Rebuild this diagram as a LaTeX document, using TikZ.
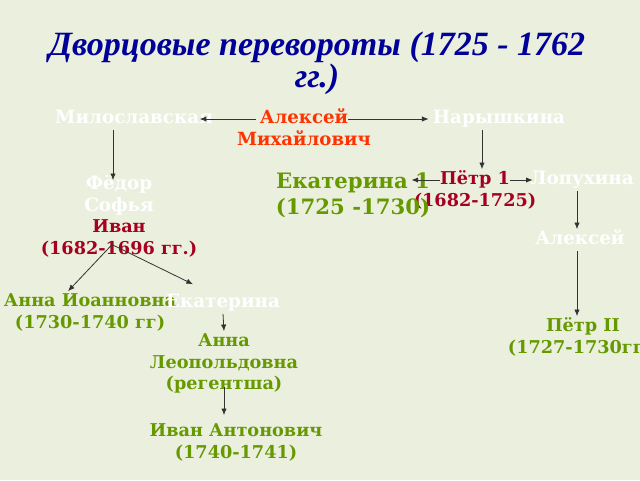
\documentclass[tikz,border=0pt]{standalone}
\usepackage{fontspec}
\setmainfont{DejaVu Serif}
\newfontfamily\titlefont{Liberation Serif}
\usepackage{xcolor}
\usetikzlibrary{arrows.meta,positioning,calc}

\definecolor{bgcol}{RGB}{235,239,222}
\definecolor{titleblue}{RGB}{0,0,153}
\definecolor{leafgreen}{RGB}{102,153,0}
\definecolor{darkcrimson}{RGB}{165,0,33}
\definecolor{redorange}{RGB}{255,51,0}

\begin{document}
\begin{tikzpicture}[
    x=0.75pt, y=-0.75pt,
    >={Latex[length=5pt,width=4pt]},
    line/.style={draw=black!80, line width=0.6pt},
    person/.style={font=\bfseries\fontsize{13.25}{15.75}\selectfont, inner sep=0pt, text height=11.5pt, text depth=4.25pt},
    whitename/.style={person, text=white, font=\bfseries\fontsize{13.75}{15.75}\selectfont},
    greenname/.style={person, text=leafgreen},
    rulername/.style={person, text=darkcrimson},
    fathername/.style={person, text=redorange, font=\bfseries\fontsize{13.6}{15.75}\selectfont},
    bigname/.style={person, text=leafgreen, font=\bfseries\fontsize{15.9}{18.75}\selectfont, text height=13.5pt, text depth=5.25pt},
    titletext/.style={font=\titlefont\bfseries\itshape\fontsize{25.5}{22.5}\selectfont, text=titleblue, align=center},
    ]
    \path[use as bounding box, fill=bgcol] (0,0) rectangle (640,480);

    %Title
    \node[titletext] (title) at (317,63) {Дворцовые перевороты (1725 - 1762\\гг.)};

    %Nodes
    \node[whitename]                   (miloslav)   at (134,119) {Милославская};
    \node[fathername]                  (alexey)     at (304,119) {Алексей};
    \node[fathername, below=0pt of alexey] (mikhail)             {Михайлович};
    \node[whitename]                   (naryshkina) at (499,119) {Нарышкина};

    \node[whitename]                   (fedor)      at (119,185) {Фёдор};
    \node[whitename, below=0pt of fedor]   (sofia)               {Софья};
    \node[rulername, below=0pt of sofia]   (ivan)                {Иван};
    \node[rulername, below=0pt of ivan]    (ivanyears)           {(1682-1696 гг.)};

    \node[rulername]                   (petr)       at (475,180) {Пётр 1};
    \node[rulername, below=0pt of petr]    (petryears)           {(1682-1725)};
    \node[bigname]                     (ekat1)      at (353,183) {Екатерина 1};
    \node[bigname, below=0pt of ekat1]     (ekat1years)          {(1725 -1730)};
    \node[whitename]                   (lopukhina)  at (582,180) {Лопухина};
    \node[whitename]                   (alexei)     at (580,240) {Алексей};
    \node[greenname]                   (petr2)      at (583,327) {Пётр II};
    \node[greenname, below=0pt of petr2]   (petr2years)          {(1727-1730гг.)};

    \node[greenname]                   (anna)       at (90,302)  {Анна Иоанновна};
    \node[greenname, below=0pt of anna]    (annayears)           {(1730-1740 гг)};
    \node[whitename]                   (ekat)       at (223,303) {Екатерина};
    \node[greenname]                   (annaL)      at (224,342) {Анна};
    \node[greenname, below=0pt of annaL]   (leopold)             {Леопольдовна};
    \node[greenname, below=0pt of leopold] (regent)              {(регентша)};
    \node[greenname]                   (ivanA)      at (236,432) {Иван Антонович};
    \node[greenname, below=0pt of ivanA]   (ivanAyears)          {(1740-1741)};

    %Helper points
    \coordinate (ekat1tip)  at ([xshift=-14pt]ekat1.east);
    \coordinate (fork)      at ([shift={(-5.25pt,3.75pt)}]ivanyears.center);
    \coordinate (ivanAtop)  at ([yshift=4.5pt]ivanA.north);

    %Lines
    \draw[line,->] ([xshift=-3pt]alexey.west) -- ([xshift=-10pt]miloslav.east);
    \draw[line,->] (alexey.east) -- ([xshift=-3pt]naryshkina.west);
    \draw[line,->, shorten >=-4.5pt] ([xshift=-15.75pt]miloslav.south) coordinate (m) -- (m |- fedor.north);
    \draw[line,->] ([xshift=-12.75pt]naryshkina.south) coordinate (n) -- (n |- petr.north);
    \draw[line,->] (petr.west) -- (petr.west -| ekat1tip);
    \draw[line,->] (petr.east) -- ([xshift=2pt]lopukhina.west);
    \draw[line,->] ([xshift=-3.75pt]lopukhina.south) coordinate (l) -- (l |- alexei.north);
    \draw[line,->] ([xshift=-2.25pt]alexei.south) coordinate (a) -- (a |- petr2.north);
    \draw[line,->] (fork) -- ([xshift=-16.5pt]anna.north);
    \draw[line,->] (fork) -- ([shift={(-22.5pt,6pt)}]ekat.north);
    \draw[line,->] (ekat.south) -- (annaL.north);
    \draw[line,->] ([yshift=6.75pt]regent.south) coordinate (r) -- (r |- ivanAtop);
\end{tikzpicture}
\end{document}
